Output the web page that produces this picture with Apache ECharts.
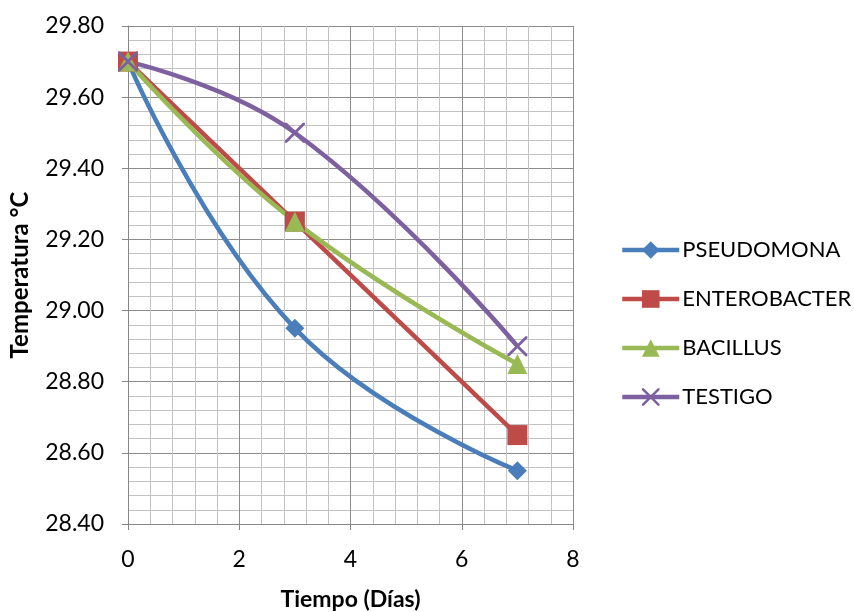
<!DOCTYPE html>
<html>
<head>
<meta charset="utf-8">
<script src="https://cdn.jsdelivr.net/npm/echarts@6/dist/echarts.min.js"></script>
<style>html,body{margin:0;padding:0;background:#fff}#c{width:854px;height:612px}</style>
</head>
<body>
<div id="c"></div>
<script>
// Days of measurement
const dias = [0, 3, 7];
// Temperature (°C) per treatment
const pseudomona = [29.70, 28.95, 28.55];
const enterobacter = [29.70, 29.25, 28.65];
const bacillus = [29.70, 29.25, 28.85];
const testigo = [29.70, 29.50, 28.90];
const nombres = ['PSEUDOMONA', 'ENTEROBACTER', 'BACILLUS', 'TESTIGO'];

const FONT = 'Lato, "Open Sans", sans-serif';
const crossPath = 'path://M0,0L1,0L5,4L9,0L10,0L10,1L6,5L10,9L10,10L9,10L5,6L1,10L0,10L0,9L4,5L0,1Z';

function pares(vals) { return dias.map((d, i) => [d, vals[i]]); }

function serie(name, vals, color, symbol, size) {
  return {
    name: name, type: 'line', smooth: 0.45,
    data: pares(vals),
    symbol: symbol, symbolSize: size,
    lineStyle: { color: color, width: 4.5 },
    itemStyle: { color: color },
    emphasis: { disabled: true }
  };
}

const chart = echarts.init(document.getElementById('c'));
chart.setOption({
  animation: false,
  grid: { left: 128, right: 281, top: 26, bottom: 88, containLabel: false, outerBoundsMode: 'none' },
  xAxis: {
    type: 'value', min: 0, max: 8, interval: 2,
    name: 'Tiempo (Días)', nameLocation: 'middle', nameGap: 64,
    nameTextStyle: { fontFamily: FONT, fontSize: 23, fontWeight: 'bold', color: '#000' },
    axisLine: { show: true, lineStyle: { color: '#868686', width: 1 } },
    axisTick: { show: true, length: 6, lineStyle: { color: '#868686' } },
    axisLabel: { fontFamily: FONT, fontSize: 23, color: '#000', margin: 24 },
    splitLine: { show: true, lineStyle: { color: '#8c8c8c', width: 1 } },
    minorTick: { show: false, splitNumber: 5 },
    minorSplitLine: { show: true, lineStyle: { color: '#c3c3c3', width: 1 } }
  },
  yAxis: {
    type: 'value', min: 28.4, max: 29.8, interval: 0.2,
    name: 'Temperatura °C', nameLocation: 'middle', nameGap: 96, nameRotate: 90,
    nameTextStyle: { fontFamily: FONT, fontSize: 24, fontWeight: 'bold', color: '#000' },
    axisLine: { show: true, lineStyle: { color: '#868686', width: 1 } },
    axisTick: { show: true, length: 6, lineStyle: { color: '#868686' } },
    axisLabel: { fontFamily: FONT, fontSize: 23, color: '#000', margin: 24,
      formatter: v => v.toFixed(2) },
    splitLine: { show: true, lineStyle: { color: '#8c8c8c', width: 1 } },
    minorTick: { show: false, splitNumber: 5 },
    minorSplitLine: { show: true, lineStyle: { color: '#c3c3c3', width: 1 } }
  },
  legend: {
    orient: 'vertical', left: 620, top: 239, itemGap: 27, padding: 0,
    itemWidth: 57, itemHeight: 22,
    lineStyle: { width: 4.5 },
    textStyle: { fontFamily: FONT, fontSize: 22, color: '#000', padding: [0, 0, 0, -2] },
    data: nombres
  },
  series: [
    serie(nombres[0], pseudomona, '#4a7ebb', 'diamond', 19),
    serie(nombres[1], enterobacter, '#be4b48', 'rect', 20),
    serie(nombres[2], bacillus, '#98b954', 'triangle', 20),
    serie(nombres[3], testigo, '#7d60a0', crossPath, 20)
  ]
});
</script>
</body>
</html>
